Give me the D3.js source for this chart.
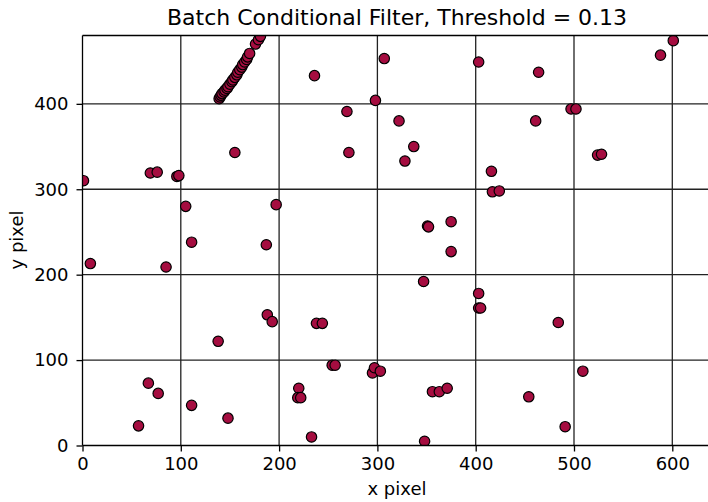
<!DOCTYPE html>
<html>
<head>
<meta charset="utf-8">
<style>
    body { margin: 0; background: #fff; }
    text { font-family: "DejaVu Sans", sans-serif; fill: #000; }
    .grid line { stroke: #222; stroke-width: 1.3; }
    .dot { fill: #a50d40; stroke: #000; stroke-width: 1.2; }
</style>
</head>
<body>
<script src="https://cdn.jsdelivr.net/npm/d3@7"></script>
<script>
    // point coordinates (image pixels)
    let xs = [1, 69, 76, 96, 98, 105, 111, 155, 197, 187, 236, 269, 271,
              139, 140, 141, 142, 144, 145, 147, 148, 150, 152, 153, 155, 157, 158, 160, 162, 163, 165, 167, 168, 170, 176, 179, 181,
              307, 298, 322, 337, 328, 403, 464, 461, 416, 417, 424, 497, 502, 524, 528, 588, 601,
              351, 352, 375, 375,
              8, 85, 188, 193, 138, 238, 244, 254, 257, 220, 219, 222, 67, 77, 57, 111, 148, 233,
              347, 403, 403, 405, 484, 295, 297, 303, 509, 356, 363, 371, 454, 491, 348];
    let ys = [310, 319, 320, 315, 316, 280, 238, 343, 282, 235, 433, 391, 343,
              406, 408, 410, 412, 414, 416, 418, 420, 423, 426, 428, 431, 434, 437, 440, 443, 446, 449, 452, 455, 459, 470, 475, 479,
              453, 404, 380, 350, 333, 449, 437, 380, 321, 297, 298, 394, 394, 340, 341, 457, 474,
              257, 256, 262, 227,
              213, 209, 153, 145, 122, 143, 143, 94, 94, 67, 56, 56, 73, 61, 23, 47, 32, 10,
              192, 178, 161, 161, 144, 85, 91, 87, 87, 63, 63, 67, 57, 22, 5];
    let points = xs.map((x, i) => ({x: x, y: ys[i]}));

    let xTicks = [0, 100, 200, 300, 400, 500, 600];
    let yTicks = [0, 100, 200, 300, 400];

    let width = 708, height = 502;
    let mLeft = 82.5, mTop = 35.5, mBottom = 445.5;

    let svg = d3.select("body").append("svg")
        .attr("width", width)
        .attr("height", height);

    let xScale = d3.scaleLinear().domain([0, 640]).range([mLeft, mLeft + 640 * 0.983]);
    let yScale = d3.scaleLinear().domain([0, 480]).range([mBottom, mTop]);

    svg.append("clipPath").attr("id", "plotclip")
        .append("rect")
        .attr("x", mLeft).attr("y", mTop)
        .attr("width", width - mLeft).attr("height", mBottom - mTop);

    // grid
    let grid = svg.append("g").attr("class", "grid");
    grid.selectAll(".vx").data(xTicks.slice(1)).enter()
        .append("line")
        .attr("x1", d => xScale(d)).attr("x2", d => xScale(d))
        .attr("y1", mTop).attr("y2", mBottom);
    grid.selectAll(".hy").data(yTicks.slice(1)).enter()
        .append("line")
        .attr("x1", mLeft).attr("x2", width)
        .attr("y1", d => yScale(d)).attr("y2", d => yScale(d));

    svg.append("g")
        .attr("clip-path", "url(#plotclip)")
        .selectAll("circle")
        .data(points)
        .enter()
        .append("circle")
        .attr("class", "dot")
        .attr("cx", d => xScale(d.x))
        .attr("cy", d => yScale(d.y))
        .attr("r", 5.2);

    // frame
    svg.append("line").attr("x1", mLeft).attr("x2", width).attr("y1", mTop).attr("y2", mTop)
        .attr("stroke", "#000").attr("stroke-width", 1.3);

    let xAxis = svg.append("g")
        .attr("transform", "translate(0," + mBottom + ")")
        .call(d3.axisBottom(xScale).tickValues(xTicks).tickSize(6).tickPadding(6));
    let yAxis = svg.append("g")
        .attr("transform", "translate(" + mLeft + ",0)")
        .call(d3.axisLeft(yScale).tickValues(yTicks).tickSize(6).tickPadding(8));

    [xAxis, yAxis].forEach(a => {
        a.selectAll("path, line").attr("stroke", "#000").attr("stroke-width", 1.3);
        a.selectAll("text").style("font-size", "18px").attr("font-family", "DejaVu Sans");
    });
    xAxis.select(".domain").attr("d", "M" + mLeft + ",0H" + width);
    yAxis.select(".domain").attr("d", "M0," + mBottom + "V" + mTop);

    svg.append("text")
        .attr("x", 397)
        .attr("y", 25)
        .attr("text-anchor", "middle")
        .style("font-size", "22px")
        .text("Batch Conditional Filter, Threshold = 0.13");

    svg.append("text")
        .attr("x", 397)
        .attr("y", 495)
        .attr("text-anchor", "middle")
        .style("font-size", "18px")
        .text("x pixel");

    svg.append("text")
        .attr("transform", "translate(23,240) rotate(-90)")
        .attr("text-anchor", "middle")
        .style("font-size", "18px")
        .text("y pixel");
</script>
</body>
</html>
